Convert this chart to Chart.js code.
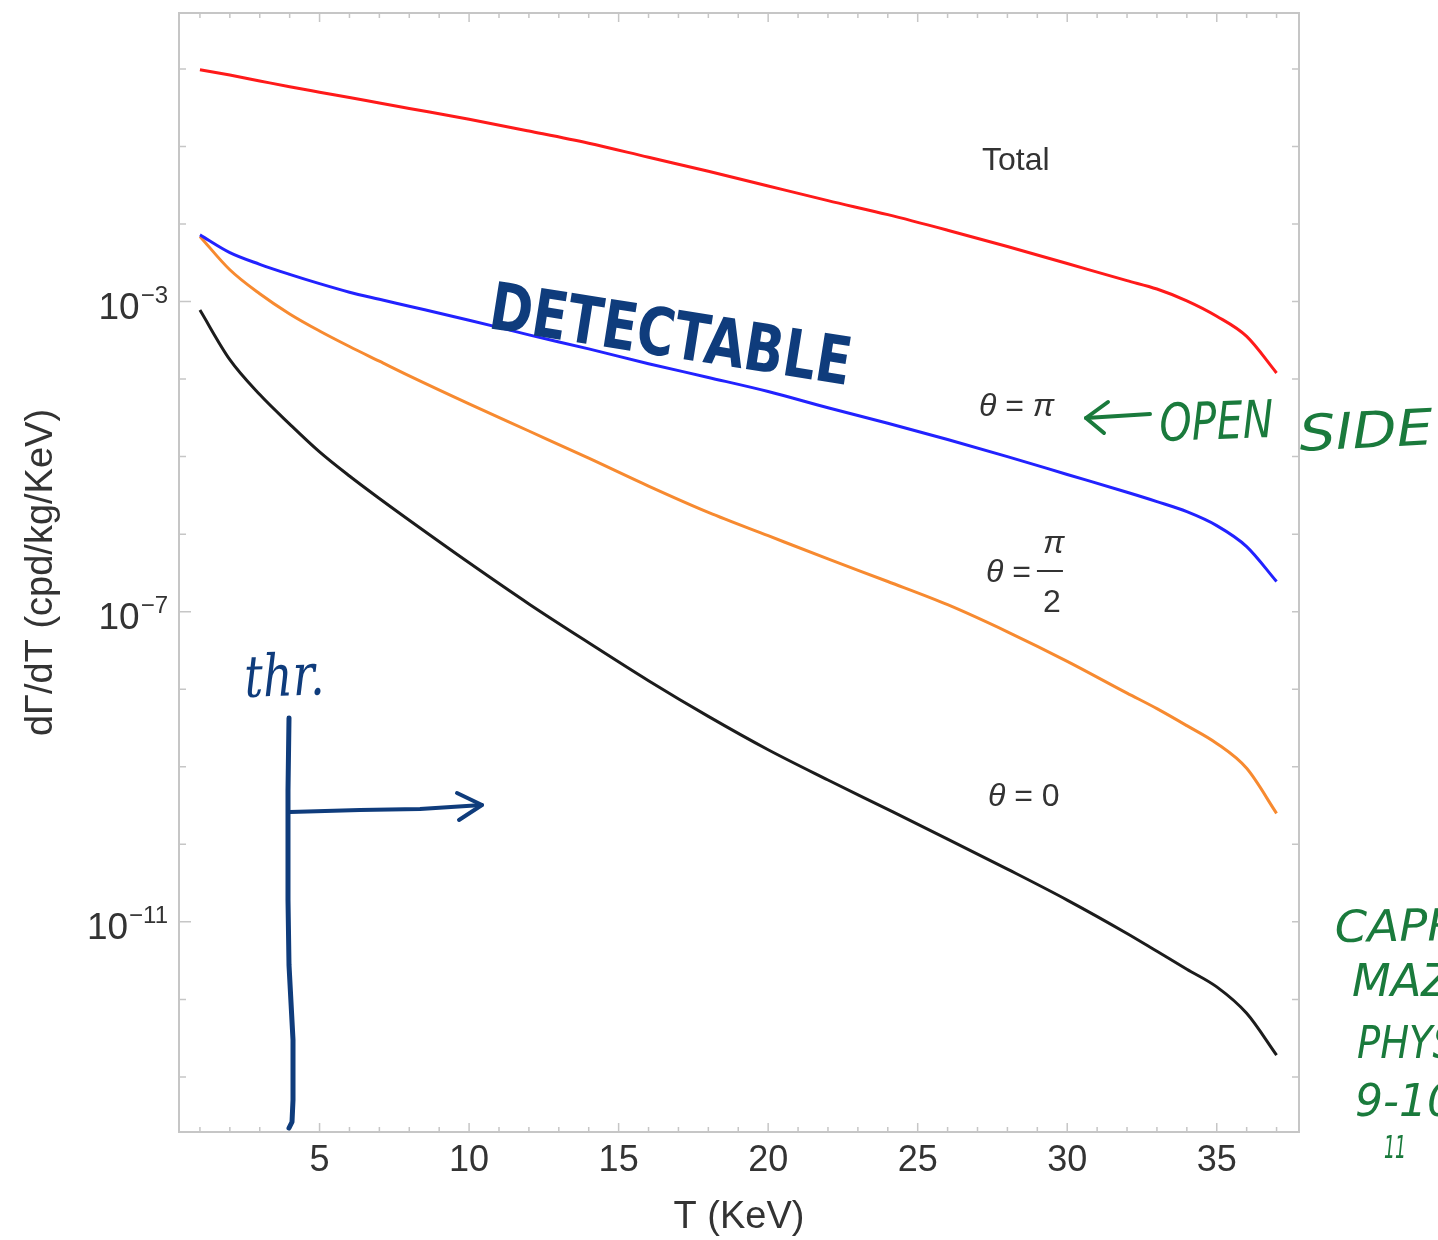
<!DOCTYPE html>
<html>
<head>
<meta charset="utf-8">
<script src="https://cdn.jsdelivr.net/npm/chart.js@4.4.1/dist/chart.umd.min.js"></script>
<style>
  html, body { margin: 0; padding: 0; background: #fff; }
  #rateChart { display: block; }
</style>
</head>
<body>
<canvas id="rateChart" width="1438" height="1240"></canvas>
<script>
// recoil energy T (KeV) at the sampled points
const energies = [1, 2, 3, 4, 5, 6, 7, 8, 10, 12, 14, 16, 18, 20, 22, 24, 26, 28, 30, 32, 33, 34, 35, 36, 37];

// dGamma/dT (cpd/kg/KeV)
const rateTotal = [0.977, 0.832, 0.700, 0.589, 0.501, 0.427, 0.363, 0.309, 0.224, 0.158, 0.110, 0.0724, 0.0479,
  0.0309, 0.0200, 0.0132, 0.00832, 0.00513, 0.00309, 0.00186, 0.00145, 0.00102, 0.000646, 0.000355, 0.000120];
const rateThetaPi = [7.24e-3, 4.27e-3, 3.02e-3, 2.24e-3, 1.70e-3, 1.32e-3, 1.07e-3, 8.71e-4, 5.75e-4, 3.72e-4,
  2.45e-4, 1.58e-4, 1.05e-4, 6.92e-5, 4.27e-5, 2.69e-5, 1.66e-5, 1.00e-5, 5.89e-6, 3.47e-6, 2.63e-6, 1.95e-6,
  1.29e-6, 6.92e-7, 2.45e-7];
const rateThetaHalfPi = [6.92e-3, 2.57e-3, 1.26e-3, 6.92e-4, 4.17e-4, 2.63e-4, 1.70e-4, 1.10e-4, 4.79e-5, 2.14e-5,
  9.55e-6, 4.17e-6, 1.91e-6, 9.55e-7, 4.79e-7, 2.45e-7, 1.23e-7, 5.50e-8, 2.29e-8, 8.91e-9, 5.62e-9, 3.39e-9,
  2.00e-9, 9.55e-10, 2.51e-10];
const rateThetaZero = [7.76e-4, 1.78e-4, 6.31e-5, 2.63e-5, 1.15e-5, 5.62e-6, 2.88e-6, 1.51e-6, 4.27e-7, 1.26e-7,
  3.98e-8, 1.29e-8, 4.47e-9, 1.66e-9, 6.76e-10, 2.82e-10, 1.17e-10, 4.79e-11, 1.91e-11, 7.08e-12, 4.17e-12,
  2.45e-12, 1.45e-12, 6.61e-13, 1.91e-13];

// axis ticks
const xTickValues = [5, 10, 15, 20, 25, 30, 35];
const yTickValues = [1e-3, 1e-7, 1e-11];
const yTickExponents = ['\u22123', '\u22127', '\u221211'];
const yDecades = [1, 1e-1, 1e-2, 1e-3, 1e-4, 1e-5, 1e-6, 1e-7, 1e-8, 1e-9, 1e-10, 1e-11, 1e-12, 1e-13];

const SANS = '"Liberation Sans", Arial, sans-serif';
const TEXT = '#333333';
const NAVY = '#0f3c7c';
const GREEN = '#1a7a3c';

Chart.defaults.font.family = SANS;
Chart.defaults.color = TEXT;

function series(values) {
  return energies.map((t, i) => ({ x: t, y: values[i] }));
}

// free-hand looking text: left/baseline anchored, squeezed to a width
function handText(ctx, text, x, y, w, font, color, angle) {
  ctx.save();
  ctx.font = font;
  ctx.fillStyle = color;
  ctx.textAlign = 'left';
  ctx.textBaseline = 'alphabetic';
  ctx.translate(x, y);
  ctx.rotate(angle * Math.PI / 180);
  ctx.scale(w / ctx.measureText(text).width, 1);
  ctx.fillText(text, 0, 0);
  ctx.restore();
}

function penLine(ctx, pts, color, width) {
  ctx.save();
  ctx.strokeStyle = color;
  ctx.lineWidth = width;
  ctx.lineCap = 'round';
  ctx.lineJoin = 'round';
  ctx.beginPath();
  ctx.moveTo(pts[0][0], pts[0][1]);
  for (let i = 1; i < pts.length; i++) ctx.lineTo(pts[i][0], pts[i][1]);
  ctx.stroke();
  ctx.restore();
}

// math-style label pieces: [text, italic]
function mathLabel(ctx, parts, x, y) {
  let cx = x;
  parts.forEach(([txt, italic]) => {
    ctx.font = (italic ? 'italic ' : '') + '32px ' + SANS;
    ctx.fillText(txt, cx, y);
    cx += ctx.measureText(txt).width;
  });
  return cx;
}

const framePlugin = {
  id: 'framePlugin',
  beforeDatasetsDraw(chart) {
    const { ctx, chartArea: a, scales: { x, y } } = chart;
    ctx.save();
    ctx.strokeStyle = '#c6c6c6';
    ctx.lineWidth = 2;
    ctx.strokeRect(a.left, a.top, a.right - a.left, a.bottom - a.top);

    ctx.lineWidth = 1.5;
    ctx.beginPath();
    for (let t = 1; t <= 37; t++) {
      const px = x.getPixelForValue(t);
      const len = t % 5 === 0 ? 9 : 5;
      ctx.moveTo(px, a.bottom); ctx.lineTo(px, a.bottom - len);
      ctx.moveTo(px, a.top); ctx.lineTo(px, a.top + len);
    }
    yDecades.forEach(v => {
      const py = y.getPixelForValue(v);
      const len = yTickValues.includes(v) ? 12 : 7;
      ctx.moveTo(a.left, py); ctx.lineTo(a.left + len, py);
      ctx.moveTo(a.right, py); ctx.lineTo(a.right - 7, py);
    });
    ctx.stroke();
    ctx.restore();
  },
  afterDraw(chart) {
    const { ctx, scales: { y } } = chart;
    ctx.save();
    ctx.fillStyle = TEXT;
    ctx.textBaseline = 'alphabetic';

    // y tick labels as 10 with a raised exponent
    yTickValues.forEach((v, i) => {
      const py = y.getPixelForValue(v);
      ctx.font = '24px ' + SANS;
      ctx.textAlign = 'right';
      const supW = ctx.measureText(yTickExponents[i]).width;
      ctx.fillText(yTickExponents[i], 168, py + 1);
      ctx.font = '37px ' + SANS;
      ctx.fillText('10', 168 - supW - 1, py + 17);
    });

    // curve labels
    ctx.textAlign = 'left';
    ctx.font = '32px ' + SANS;
    ctx.fillText('Total', 982, 170);
    mathLabel(ctx, [['\u03b8', true], [' = ', false], ['\u03c0', true]], 979, 416);
    const eqEnd = mathLabel(ctx, [['\u03b8', true], [' =', false]], 986, 582);
    ctx.font = 'italic 32px ' + SANS;
    ctx.fillText('\u03c0', eqEnd + 12, 553);
    ctx.font = '32px ' + SANS;
    ctx.fillText('2', eqEnd + 12, 612);
    ctx.fillRect(eqEnd + 6, 570, 26, 2);
    mathLabel(ctx, [['\u03b8', true], [' = ', false], ['0', false]], 988, 806);
    ctx.restore();

    // hand-written notes on top of the plot
    handText(ctx, 'DETECTABLE', 487, 328, 365, 'bold 66px "DejaVu Sans", sans-serif', NAVY, 9);
    handText(ctx, 'thr.', 245, 697, 80, 'italic 58px "DejaVu Serif", serif', NAVY, -2);
    penLine(ctx, [[289, 718], [288, 790], [288, 900], [289, 965], [293, 1040], [293, 1100], [292, 1122], [289, 1128]], NAVY, 5);
    penLine(ctx, [[290, 812], [360, 810], [420, 809], [482, 805]], NAVY, 4);
    penLine(ctx, [[457, 793], [482, 805], [459, 820]], NAVY, 4);

    penLine(ctx, [[1150, 414], [1086, 418]], GREEN, 4);
    penLine(ctx, [[1108, 402], [1086, 418], [1104, 433]], GREEN, 4);
    handText(ctx, 'OPEN', 1160, 441, 114, 'italic 52px "DejaVu Sans", sans-serif', GREEN, -2);
    handText(ctx, 'SIDE', 1300, 451, 134, 'italic 50px "DejaVu Sans", sans-serif', GREEN, -3);

    const noteFont = 'italic 44px "DejaVu Sans", sans-serif';
    handText(ctx, 'CAPR', 1335, 942, 125, noteFont, GREEN, -1);
    handText(ctx, 'MAZ', 1352, 996, 100, noteFont, GREEN, 0);
    handText(ctx, 'PHYS', 1357, 1058, 100, noteFont, GREEN, 0);
    handText(ctx, '9-10', 1355, 1116, 100, noteFont, GREEN, 0);
    handText(ctx, '11', 1384, 1158, 22, 'italic 32px "DejaVu Sans", sans-serif', GREEN, 0);
  }
};

const lineStyle = { borderWidth: 3, pointRadius: 0, cubicInterpolationMode: 'monotone', fill: false };

new Chart(document.getElementById('rateChart').getContext('2d'), {
  type: 'line',
  data: {
    datasets: [
      { label: 'Total', data: series(rateTotal), borderColor: '#ff1a1a', ...lineStyle },
      { label: '\u03b8 = \u03c0', data: series(rateThetaPi), borderColor: '#2222ff', ...lineStyle },
      { label: '\u03b8 = \u03c0/2', data: series(rateThetaHalfPi), borderColor: '#f78a30', ...lineStyle },
      { label: '\u03b8 = 0', data: series(rateThetaZero), borderColor: '#1c1c1c', ...lineStyle }
    ]
  },
  options: {
    responsive: false,
    animation: false,
    layout: { padding: { top: 13, right: 139, left: 0, bottom: 0 } },
    plugins: {
      legend: { display: false },
      tooltip: { enabled: false }
    },
    scales: {
      x: {
        type: 'linear',
        min: 0.3,
        max: 37.75,
        afterBuildTicks: scale => { scale.ticks = xTickValues.map(v => ({ value: v })); },
        afterFit: scale => { scale.height = 108; },
        grid: { display: false, drawTicks: false },
        border: { display: false },
        ticks: { padding: 7, color: TEXT, font: { size: 36 }, maxRotation: 0 },
        title: { display: true, text: 'T (KeV)', color: TEXT, font: { size: 38 }, padding: { top: 0, bottom: 0 } }
      },
      y: {
        type: 'logarithmic',
        min: 1.95e-14,
        max: 5.26,
        afterFit: scale => { scale.width = 179; },
        grid: { display: false, drawTicks: false },
        border: { display: false },
        ticks: { display: false },
        title: { display: true, text: 'd\u0393/dT (cpd/kg/KeV)', color: TEXT, font: { size: 38 }, padding: { top: 19, bottom: 0 } }
      }
    }
  },
  plugins: [framePlugin]
});
</script>
</body>
</html>
